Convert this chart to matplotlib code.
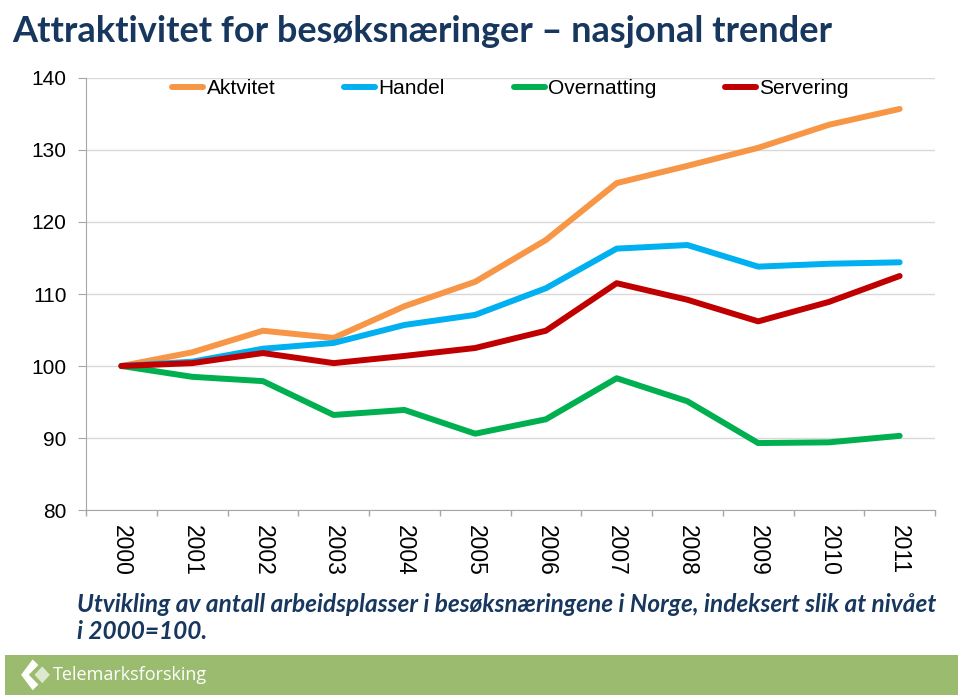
import numpy as np
import matplotlib.pyplot as plt
from matplotlib.patches import Rectangle, Polygon

# === Data (index, 2000 = 100) ===
years = [2000, 2001, 2002, 2003, 2004, 2005, 2006, 2007, 2008, 2009, 2010, 2011]
aktivitet = [100, 101.9, 104.9, 103.9, 108.3, 111.7, 117.5, 125.4, 127.8, 130.3, 133.5, 135.7]
handel = [100, 100.6, 102.4, 103.2, 105.7, 107.1, 110.8, 116.3, 116.8, 113.8, 114.2, 114.4]
overnatting = [100, 98.5, 97.9, 93.2, 93.9, 90.6, 92.6, 98.3, 95.1, 89.3, 89.4, 90.3]
servering = [100, 100.4, 101.8, 100.4, 101.4, 102.5, 104.9, 111.5, 109.2, 106.2, 108.9, 112.5]

series = [
    ("Aktvitet", aktivitet, "#F79646"),
    ("Handel", handel, "#00B0F0"),
    ("Overnatting", overnatting, "#00B050"),
    ("Servering", servering, "#C00000"),
]
y_ticks = [80, 90, 100, 110, 120, 130, 140]

navy = "#17375E"
fig = plt.figure(figsize=(9.6, 7.0), dpi=100)
ax = fig.add_axes([0.0896, 0.2714, 0.8844, 0.6172])

x = np.arange(len(years))
for name, vals, col in series:
    ax.plot(x, vals, color=col, lw=4.3, label=name, solid_capstyle="round",
            solid_joinstyle="round", zorder=3)

ax.set_xlim(-0.5, len(years) - 0.5)
ax.set_ylim(80, 140)
ax.set_yticks(y_ticks)
ax.set_yticklabels([str(v) for v in y_ticks], fontsize=15, family="Liberation Sans")
ax.yaxis.grid(True, color="#D9D9D9", lw=1, zorder=0)

# year labels centred under each category, no tick marks from the axis
ax.set_xticks(x)
ax.set_xticklabels([str(y) for y in years], rotation=-90,
                   fontsize=16.5, family="Liberation Sans")
ax.tick_params(axis="x", length=0, pad=11)
ax.tick_params(axis="y", length=6, color="#A6A6A6", pad=8)

# short marks between categories, below the axis only
bounds = np.arange(-0.5, len(years), 1.0)
ax.vlines(bounds, -0.014, 0, transform=ax.get_xaxis_transform(),
          colors="#A6A6A6", lw=1, clip_on=False)

for s in ["top", "right"]:
    ax.spines[s].set_visible(False)
for s in ["left", "bottom"]:
    ax.spines[s].set_color("#A6A6A6")

ax.legend(loc="upper center", ncol=4, frameon=False,
          handlelength=1.5, handletextpad=0.15, columnspacing=3.3,
          bbox_to_anchor=(0.5, 1.04), prop={"family": "Liberation Sans", "size": 15})

# title and caption
fig.text(0.0125, 0.978, "Attraktivitet for besøksnæringer \u2013 nasjonal trender",
         fontsize=26, fontweight="bold", color=navy, family="Lato", va="top")
fig.text(0.080, 0.117, "Utvikling av antall arbeidsplasser i besøksnæringene i Norge, indeksert slik at nivået\ni 2000=100.",
         fontsize=17.6, fontweight="bold", style="italic", color=navy, family="Lato",
         va="center", linespacing=1.25)

# green footer band with logo
fig.patches.append(Rectangle((0.005, 0.007), 0.993, 0.058, transform=fig.transFigure,
                             facecolor="#9BBB6F", edgecolor="none"))
fig.patches.append(Polygon([(0.022, 0.036), (0.034, 0.058), (0.040, 0.050), (0.030, 0.036),
                            (0.040, 0.022), (0.034, 0.014)], closed=True,
                           transform=fig.transFigure, facecolor="white", edgecolor="none"))
fig.patches.append(Polygon([(0.036, 0.036), (0.044, 0.048), (0.052, 0.036), (0.044, 0.024)],
                           closed=True, transform=fig.transFigure,
                           facecolor="#DDE8CF", edgecolor="none"))
fig.text(0.055, 0.036, "Telemarksforsking", fontsize=13, color="white",
         family="Open Sans", va="center")

fig.savefig("out.png", dpi=100)
